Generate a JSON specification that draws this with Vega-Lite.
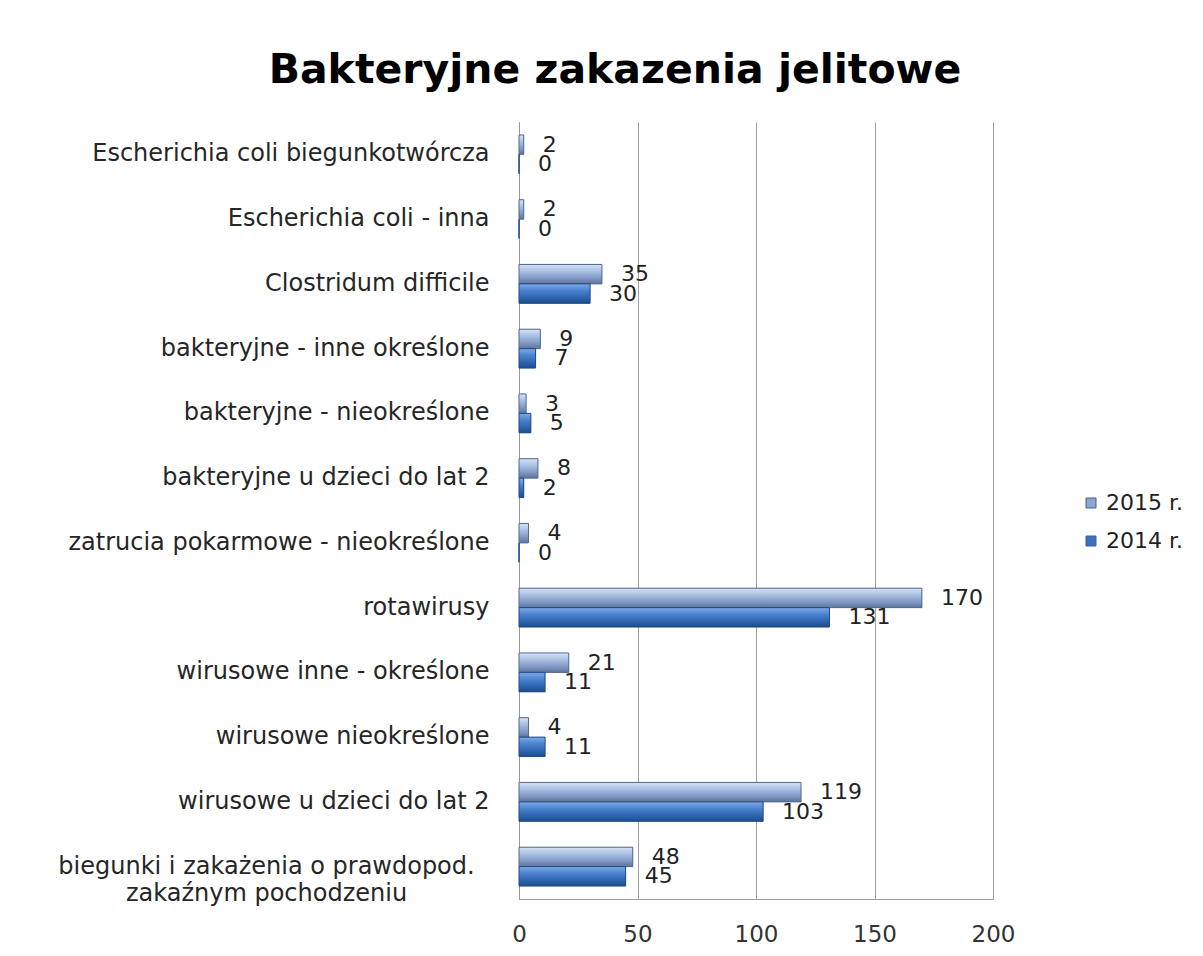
{
  "$schema": "https://vega.github.io/schema/vega-lite/v6.json",
  "autosize": "none",
  "width": 474,
  "height": 777,
  "padding": {"left": 519, "top": 122, "right": 210, "bottom": 57},
  "background": "white",
  "title": {
    "text": "Bakteryjne zakazenia jelitowe",
    "font": "DejaVu Sans",
    "fontSize": 41,
    "fontWeight": "bold",
    "color": "#000000",
    "anchor": "middle",
    "dx": -141,
    "offset": 30
  },
  "data": {
    "values": [
      {"cat": "Escherichia coli biegunkotwórcza", "year": "2015 r.", "v": 2},
      {"cat": "Escherichia coli biegunkotwórcza", "year": "2014 r.", "v": 0},
      {"cat": "Escherichia coli - inna", "year": "2015 r.", "v": 2},
      {"cat": "Escherichia coli - inna", "year": "2014 r.", "v": 0},
      {"cat": "Clostridum difficile", "year": "2015 r.", "v": 35},
      {"cat": "Clostridum difficile", "year": "2014 r.", "v": 30},
      {"cat": "bakteryjne - inne określone", "year": "2015 r.", "v": 9},
      {"cat": "bakteryjne - inne określone", "year": "2014 r.", "v": 7},
      {"cat": "bakteryjne - nieokreślone", "year": "2015 r.", "v": 3},
      {"cat": "bakteryjne - nieokreślone", "year": "2014 r.", "v": 5},
      {"cat": "bakteryjne u dzieci do lat 2", "year": "2015 r.", "v": 8},
      {"cat": "bakteryjne u dzieci do lat 2", "year": "2014 r.", "v": 2},
      {"cat": "zatrucia pokarmowe - nieokreślone", "year": "2015 r.", "v": 4},
      {"cat": "zatrucia pokarmowe - nieokreślone", "year": "2014 r.", "v": 0},
      {"cat": "rotawirusy", "year": "2015 r.", "v": 170},
      {"cat": "rotawirusy", "year": "2014 r.", "v": 131},
      {"cat": "wirusowe inne - określone", "year": "2015 r.", "v": 21},
      {"cat": "wirusowe inne - określone", "year": "2014 r.", "v": 11},
      {"cat": "wirusowe nieokreślone", "year": "2015 r.", "v": 4},
      {"cat": "wirusowe nieokreślone", "year": "2014 r.", "v": 11},
      {"cat": "wirusowe u dzieci do lat 2", "year": "2015 r.", "v": 119},
      {"cat": "wirusowe u dzieci do lat 2", "year": "2014 r.", "v": 103},
      {"cat": "biegunki i zakażenia o prawdopod. zakaźnym pochodzeniu", "year": "2015 r.", "v": 48},
      {"cat": "biegunki i zakażenia o prawdopod. zakaźnym pochodzeniu", "year": "2014 r.", "v": 45}
    ]
  },
  "encoding": {
    "y": {
      "field": "cat",
      "type": "nominal",
      "sort": null,
      "scale": {"paddingInner": 0.4, "paddingOuter": 0.2},
      "axis": {
        "title": null,
        "ticks": false,
        "labelPadding": {"condition": {"test": "datum.value == 'biegunki i zakażenia o prawdopod. zakaźnym pochodzeniu'", "value": 253}, "value": 30},
        "labelAlign": {"condition": {"test": "datum.value == 'biegunki i zakażenia o prawdopod. zakaźnym pochodzeniu'", "value": "center"}, "value": "right"},
        "labelFont": "DejaVu Sans",
        "labelFontSize": 24,
        "labelColor": "#262626",
        "labelLimit": 600,
        "labelLineHeight": 27,
        "domainColor": "#999999",
        "labelExpr": "datum.value == 'biegunki i zakażenia o prawdopod. zakaźnym pochodzeniu' ? ['biegunki i zakażenia o prawdopod.', 'zakaźnym pochodzeniu'] : datum.value"
      }
    },
    "yOffset": {
      "field": "year",
      "type": "nominal",
      "sort": ["2015 r.", "2014 r."]
    },
    "x": {
      "field": "v",
      "type": "quantitative",
      "scale": {"domain": [0, 200], "nice": false},
      "axis": {
        "title": null,
        "values": [0, 50, 100, 150, 200],
        "ticks": false,
        "labelFlush": false,
        "labelPadding": 24,
        "labelFont": "DejaVu Sans",
        "labelFontSize": 23,
        "labelColor": "#333333",
        "gridColor": "#a0a0a0",
        "gridOpacity": 1,
        "domainColor": "#a0a0a0"
      }
    }
  },
  "layer": [
    {
      "mark": {"type": "bar"},
      "encoding": {
        "color": {
          "field": "year",
          "type": "nominal",
          "sort": ["2015 r.", "2014 r."],
          "scale": {"domain": ["2015 r.", "2014 r."], "range": ["#8ea6d2", "#3a70bf"]},
          "legend": {
            "title": null,
            "orient": "none",
            "legendX": 561,
            "legendY": 370,
            "symbolType": "square",
            "symbolSize": 100,
            "symbolStrokeColor": "#44618f",
            "symbolStrokeWidth": 1,
            "labelFont": "DejaVu Sans",
            "labelFontSize": 22,
            "labelColor": "#222222",
            "rowPadding": 16,
            "labelOffset": 4
          }
        }
      }
    },
    {
      "transform": [{"filter": "datum.year == '2015 r.'"}],
      "mark": {
        "type": "bar",
        "stroke": "#55698c",
        "strokeWidth": 1,
        "fill": {
          "gradient": "linear",
          "x1": 0, "y1": 0, "x2": 0, "y2": 1,
          "stops": [
            {"offset": 0, "color": "#d6e3f6"},
            {"offset": 0.35, "color": "#a9bfe3"},
            {"offset": 0.7, "color": "#8199c4"},
            {"offset": 1, "color": "#5d739c"}
          ]
        }
      }
    },
    {
      "transform": [{"filter": "datum.year == '2014 r.'"}],
      "mark": {
        "type": "bar",
        "stroke": "#1f4a86",
        "strokeWidth": 1,
        "fill": {
          "gradient": "linear",
          "x1": 0, "y1": 0, "x2": 0, "y2": 1,
          "stops": [
            {"offset": 0, "color": "#7eaae6"},
            {"offset": 0.35, "color": "#4a82cf"},
            {"offset": 0.7, "color": "#2f66b0"},
            {"offset": 1, "color": "#1d4c8c"}
          ]
        }
      }
    },
    {
      "mark": {
        "type": "text",
        "align": "left",
        "baseline": "middle",
        "dx": 19,
        "font": "DejaVu Sans",
        "fontSize": 22,
        "color": "#222222"
      },
      "encoding": {
        "text": {"field": "v", "type": "quantitative"}
      }
    }
  ],
  "config": {
    "view": {"stroke": null},
    "axis": {"grid": false},
    "axisX": {"grid": true}
  }
}
